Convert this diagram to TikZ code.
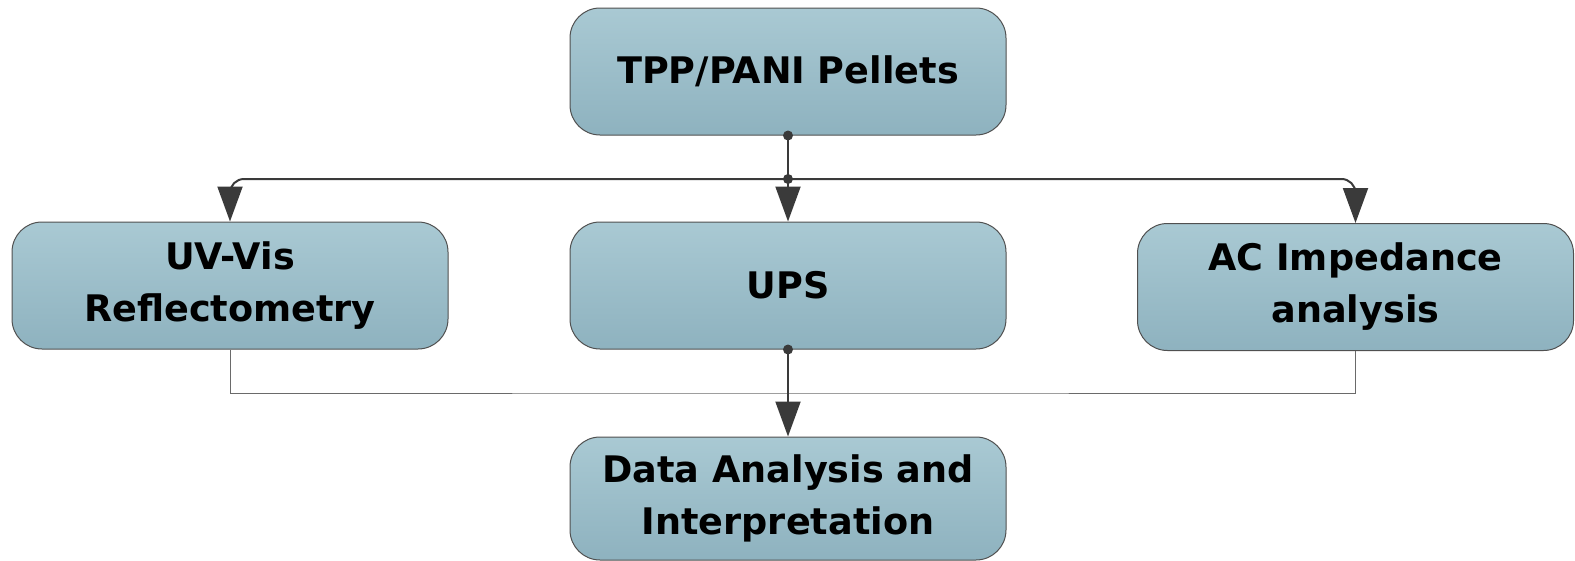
\documentclass[tikz,border=0pt]{standalone}
\usepackage{fontspec}
\setmainfont{DejaVu Sans}
\usetikzlibrary{arrows.meta}
\definecolor{boxtop}{HTML}{A9C9D3}
\definecolor{boxbot}{HTML}{8EB2BF}
\definecolor{boxline}{HTML}{505050}
\definecolor{connline}{HTML}{3A3A3A}
\definecolor{thinline}{HTML}{6A6A6A}
\tikzset{
  stagebox/.style={draw=boxline, line width=1pt, rounded corners=30pt,
    top color=boxtop, bottom color=boxbot, align=center,
    minimum width=436pt, minimum height=127pt, inner sep=0pt,
    font=\fontsize{36.6}{52}\selectfont\bfseries},
  conn/.style={draw=connline, line width=2pt},
  tip/.style={-{Triangle[length=35pt,width=25pt]}},
  joint/.style={fill=connline},
  feed/.style={draw=thinline, line width=1pt}
}
\begin{document}
\begin{tikzpicture}[x=1pt,y=-1pt]
\useasboundingbox (0,0) rectangle (1575,560);
% stages
\node[stagebox] (pellets) at (788,71.5) {TPP/PANI Pellets};
\node[stagebox] (uvvis) at (230,285.5) {UV-Vis\\Reflectometry};
\node[stagebox] (ups) at (788,285.5) {UPS};
\node[stagebox] (acimp) at (1355.5,287) {AC Impedance\\analysis};
\node[stagebox, minimum height=123pt] (data) at (788,498.5) {Data Analysis and\\Interpretation};
% branching point below the pellets
\coordinate (split) at (788,179);
\coordinate (merge) at (788,393);
% distribution to the three measurements
\draw[conn] (pellets.south) -- (split);
\draw[conn, tip, rounded corners=14pt] (split) -| (uvvis.north);
\draw[conn, tip, rounded corners=14pt] (split) -| (acimp.north);
\draw[conn, tip] (split) -- (ups.north);
% collection into the analysis
\draw[feed] (uvvis.south) |- (merge) -| (acimp.south);
\draw[conn, tip] (ups.south) -- (data.north);
% joints
\fill[joint] (pellets.south) circle (5pt);
\fill[joint] (split) circle (5pt);
\fill[joint] (ups.south) circle (5pt);
\end{tikzpicture}
\end{document}
